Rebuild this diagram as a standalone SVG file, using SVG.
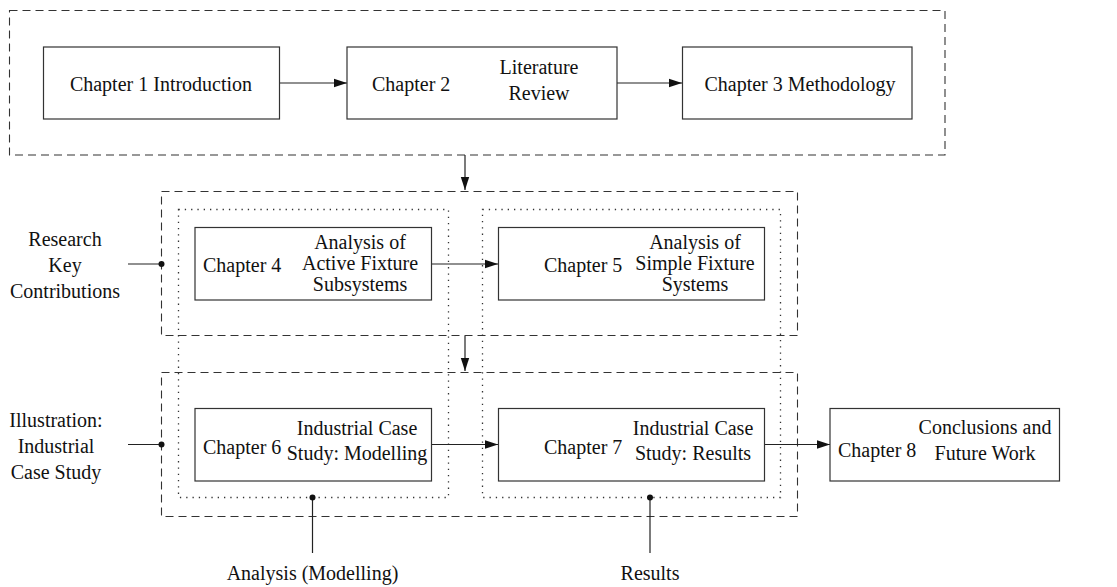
<svg xmlns="http://www.w3.org/2000/svg" width="1117" height="587" viewBox="0 0 1117 587">
<style>
.box{fill:#fff;stroke:#333;stroke-width:1.2}
.dash{fill:none;stroke:#333;stroke-width:1.1;stroke-dasharray:8,5}
.dot{fill:none;stroke:#333;stroke-width:1.3;stroke-dasharray:1.3,5}
.ln{fill:none;stroke:#222;stroke-width:1.2}
text{font-family:"Liberation Serif","Times New Roman",serif;font-size:20px;fill:#111}
.m{text-anchor:middle}
</style>
<defs>
<marker id="ah" markerUnits="userSpaceOnUse" markerWidth="14" markerHeight="10" refX="13" refY="5" orient="auto">
<path d="M0,0.8 L13,5 L0,9.2 Z" fill="#111"/>
</marker>
</defs>
<g id="containers">
<rect class="dash" x="9.5" y="10.5" width="935.5" height="144.5"/>
<rect class="dash" x="161.5" y="191.5" width="636" height="144"/>
<rect class="dash" x="161.5" y="372.5" width="636" height="144"/>
<rect class="dot" x="178.5" y="209.5" width="270" height="288"/>
<rect class="dot" x="482.5" y="209.5" width="298" height="288"/>
</g>
<g id="connectors">
<line class="ln" x1="279" y1="83" x2="347" y2="83" marker-end="url(#ah)"/>
<line class="ln" x1="617" y1="83" x2="682" y2="83" marker-end="url(#ah)"/>
<line class="ln" x1="465" y1="155" x2="465" y2="190" marker-end="url(#ah)"/>
<line class="ln" x1="432" y1="264" x2="498" y2="264" marker-end="url(#ah)"/>
<line class="ln" x1="465" y1="336" x2="465" y2="371" marker-end="url(#ah)"/>
<line class="ln" x1="432" y1="444.5" x2="498" y2="444.5" marker-end="url(#ah)"/>
<line class="ln" x1="764" y1="444.5" x2="830" y2="444.5" marker-end="url(#ah)"/>
<line class="ln" x1="128" y1="264" x2="161.5" y2="264"/>
<circle cx="161.5" cy="264" r="3" fill="#111"/>
<line class="ln" x1="128" y1="444.5" x2="161.5" y2="444.5"/>
<circle cx="161.5" cy="444.5" r="3" fill="#111"/>
<line class="ln" x1="312.5" y1="497.5" x2="312.5" y2="553"/>
<circle cx="312.5" cy="497.5" r="3" fill="#111"/>
<line class="ln" x1="650" y1="497.5" x2="650" y2="553"/>
<circle cx="650" cy="497.5" r="3" fill="#111"/>
</g>
<g id="ch1">
<rect class="box" x="43.5" y="47" width="236" height="72"/>
<text class="m" x="161" y="91">Chapter 1 Introduction</text>
</g>
<g id="ch2">
<rect class="box" x="347" y="47" width="270" height="72"/>
<text x="372" y="91">Chapter 2</text>
<text class="m" x="539" y="74">Literature</text>
<text class="m" x="539" y="100">Review</text>
</g>
<g id="ch3">
<rect class="box" x="682.5" y="47" width="229.5" height="72"/>
<text class="m" x="800" y="91">Chapter 3 Methodology</text>
</g>
<g id="ch4">
<rect class="box" x="195" y="227.5" width="236.5" height="72.5"/>
<text x="203" y="271.5">Chapter 4</text>
<text class="m" x="360" y="249">Analysis of</text>
<text class="m" x="360" y="270">Active Fixture</text>
<text class="m" x="360" y="290.5">Subsystems</text>
</g>
<g id="ch5">
<rect class="box" x="498.5" y="227.5" width="266" height="72.5"/>
<text x="544" y="271.5">Chapter 5</text>
<text class="m" x="695" y="249">Analysis of</text>
<text class="m" x="695" y="270">Simple Fixture</text>
<text class="m" x="695" y="290.5">Systems</text>
</g>
<g id="ch6">
<rect class="box" x="195" y="408.5" width="236.5" height="72.5"/>
<text x="203" y="454">Chapter 6</text>
<text class="m" x="357" y="435">Industrial Case</text>
<text class="m" x="357" y="460">Study: Modelling</text>
</g>
<g id="ch7">
<rect class="box" x="498.5" y="408.5" width="266" height="72.5"/>
<text x="544" y="454">Chapter 7</text>
<text class="m" x="693" y="435">Industrial Case</text>
<text class="m" x="693" y="460">Study: Results</text>
</g>
<g id="ch8">
<rect class="box" x="830" y="408.5" width="229.5" height="72.5"/>
<text x="838" y="456.5">Chapter 8</text>
<text class="m" x="985" y="434">Conclusions and</text>
<text class="m" x="985" y="460">Future Work</text>
</g>
<g id="labels">
<text class="m" x="65" y="246">Research</text>
<text class="m" x="65" y="272">Key</text>
<text class="m" x="65" y="298">Contributions</text>
<text class="m" x="56" y="427">Illustration:</text>
<text class="m" x="56" y="453">Industrial</text>
<text class="m" x="56" y="479">Case Study</text>
<text class="m" x="312.5" y="580">Analysis (Modelling)</text>
<text class="m" x="650" y="580">Results</text>
</g>
</svg>
